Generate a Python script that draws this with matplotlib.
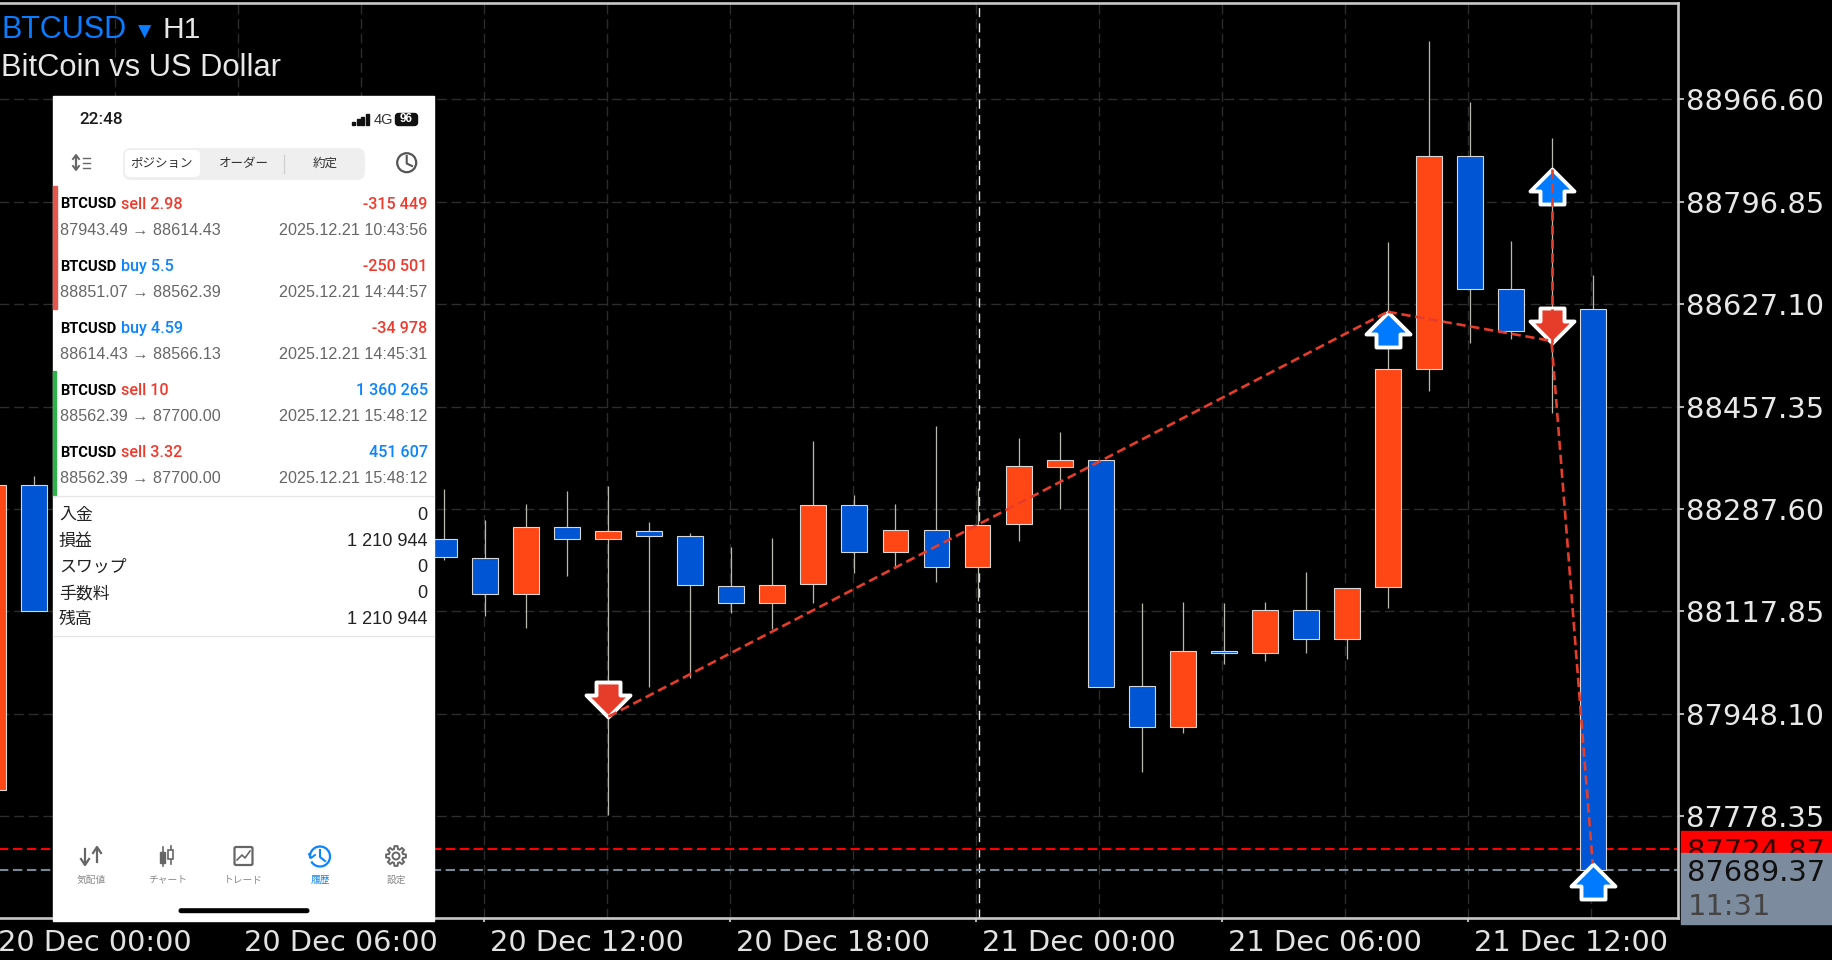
import numpy as np
import matplotlib
matplotlib.use('Agg')
import matplotlib.pyplot as plt
from matplotlib.markers import MarkerStyle
from matplotlib.patches import Rectangle, FancyBboxPatch, Circle, Arc, Polygon
from matplotlib.path import Path
from matplotlib.transforms import ScaledTranslation

# hours since 20 Dec 00:00, candles 2..10 sit behind the phone screenshot
hours = [0, 1, 11, 12, 13, 14, 15, 16, 17, 18, 19, 20, 21, 22, 23, 24, 25, 26, 27, 28,
         29, 30, 31, 32, 33, 34, 35, 36, 37, 38, 39]
opens = [87821.9, 88327.4, 88238.4, 88205.8, 88146.2, 88258.3, 88238.4, 88251.1, 88242.9, 88160.5,
         88132.4, 88163.3, 88294.8, 88215.8, 88252.8, 88192.0, 88262.2, 88356.7, 88368.8, 87994.3,
         87925.8, 88051.7, 88048.4, 88119.6, 88072.7, 88157.8, 88519.6, 88873.2, 88651.6, 88583.1, 88618.5]
closes = [88327.4, 88119.0, 88207.5, 88146.2, 88258.3, 88238.4, 88251.1, 88243.4, 88161.6, 88132.4,
          88162.2, 88294.8, 88215.8, 88252.8, 88192.0, 88261.1, 88358.9, 88368.8, 87993.2, 87925.8,
          88051.7, 88048.4, 88119.6, 88072.7, 88156.1, 88519.6, 88873.2, 88652.7, 88583.1, 88618.5, 87689.37]
highs = [88340.0, 88342.0, 88320.7, 88269.4, 88295.3, 88316.9, 88326.3, 88265.5, 88248.4, 88224.6,
         88240.1, 88400.3, 88310.8, 88295.3, 88425.2, 88321.8, 88405.8, 88415.2, 88368.8, 88131.3,
         88132.9, 88131.3, 88132.9, 88183.8, 88157.2, 88729.5, 89063.2, 88961.5, 88732.3, 88901.9, 88675.4]
lows = [87821.9, 88119.0, 88203.1, 88110.3, 88090.4, 88177.1, 87780.5, 87993.2, 88007.0, 88115.8,
        88088.7, 88132.4, 88182.1, 88190.4, 88167.2, 88135.1, 88235.1, 88287.0, 87993.2, 87851.7,
        87916.9, 88031.3, 88035.7, 88049.5, 88038.4, 88123.5, 88482.6, 88562.1, 88569.9, 88446.1, 87689.37]

price_ticks = [88966.60, 88796.85, 88627.10, 88457.35, 88287.60, 88117.85, 87948.10, 87778.35]
time_labels = ['20 Dec 00:00', '20 Dec 06:00', '20 Dec 12:00', '20 Dec 18:00',
               '21 Dec 00:00', '21 Dec 06:00', '21 Dec 12:00']
ask_price = 87724.87
bid_price = 87689.37

# trade lines: hour/price at start and end
trade_x0 = [15, 34, 38, 38]
trade_y0 = [87943.49, 88614.43, 88851.07, 88562.39]
trade_x1 = [34, 38, 38, 39]
trade_y1 = [88614.43, 88566.13, 88562.39, 87700.00]
up_x = [34, 38, 39]
up_y = [88614.43, 88851.07, 87700.00]
down_x = [15, 38]
down_y = [87943.49, 88562.39]

# phone screenshot contents
row_side = ['sell 2.98', 'buy 5.5', 'buy 4.59', 'sell 10', 'sell 3.32']
row_profit = ['-315 449', '-250 501', '-34 978', '1 360 265', '451 607']
row_prices = ['87943.49 → 88614.43', '88851.07 → 88562.39', '88614.43 → 88566.13',
              '88562.39 → 87700.00', '88562.39 → 87700.00']
row_times = ['2025.12.21 10:43:56', '2025.12.21 14:44:57', '2025.12.21 14:45:31',
             '2025.12.21 15:48:12', '2025.12.21 15:48:12']
summary_names = ['入金', '損益', 'スワップ', '手数料', '残高']
summary_values = ['0', '1 210 944', '0', '0', '1 210 944']
tab_names = ['気配値', 'チャート', 'トレード', '履歴', '設定']

ORANGE = '#FF4614'
BLUE = '#0055D4'
TRADE_RED = '#E63D2B'
ARROW_BLUE = '#007AFF'
GRID = '#2c2c2c'
PRICE_FONT = 'DejaVu Sans'
PRICE_SIZE = 20.8
JP = ['Noto Sans CJK JP', 'DejaVu Sans']
W, H = 1833, 960

fig = plt.figure(figsize=(W / 100, H / 100), dpi=100, facecolor='black')
ax = fig.add_axes([-40 / W, (H - 918) / H, 1718 / W, 915.5 / H], facecolor='black')
ax.set_xlim(-0.81, 41.08)
ax.set_ylim(87609.8, 89127.0)

# grid and separator
ax.set_xticks(np.arange(0, 42, 6) - 0.04)
ax.set_xticks(np.arange(0, 42, 3) - 0.04, minor=True)
ax.set_xticklabels(time_labels)
ax.set_yticks(price_ticks)
ax.set_yticklabels(['%.2f' % p for p in price_ticks])
ax.yaxis.tick_right()
ax.grid(which='both', color=GRID, lw=1, linestyle=(0, (7, 3.5)), zorder=0)
ax.set_axisbelow(True)
ax.axvline(24.025, color='#e8e8e8', lw=1, linestyle=(0, (6.5, 4.5)), zorder=1)
ax.axhline(ask_price, color='#FF0000', lw=1.5, linestyle=(0, (4.5, 2.2)), zorder=1)
ax.axhline(bid_price, color='#778899', lw=1.5, linestyle=(0, (4.5, 2.2)), zorder=1)

ax.tick_params(axis='x', which='major', length=3, width=1.2, color='#d8d8d8', labelcolor='#e2e2e2',
               labelsize=PRICE_SIZE, pad=5)
ax.tick_params(axis='x', which='minor', length=0)
ax.tick_params(axis='y', length=4, width=1.2, color='#d8d8d8', labelcolor='#e8e8e8', labelsize=PRICE_SIZE, pad=2)
for t in ax.get_xticklabels() + ax.get_yticklabels():
    t.set_family(PRICE_FONT)
for t in ax.get_xticklabels():
    t.set_ha('left')
    t.set_transform(t.get_transform() + ScaledTranslation(6 / 100, 0, fig.dpi_scale_trans))
for name, spine in ax.spines.items():
    spine.set_color('#c8c8c8')
    spine.set_linewidth(1.9)

# candles
colors = [ORANGE if c >= o else BLUE for o, c in zip(opens, closes)]
ax.vlines(hours, lows, highs, color='#b9b9b0', lw=0.9, zorder=2)
body_low = [min(o, c) for o, c in zip(opens, closes)]
body_h = [abs(o - c) for o, c in zip(opens, closes)]
ax.bar(hours, body_h, bottom=body_low, width=0.633, color=colors, edgecolor='#d8d8d8', linewidth=0.8, zorder=3)

# arrows, tip of the path sits on the trade price
arrow = [(0, 0), (22, -22), (12, -22), (12, -35), (-12, -35), (-12, -22), (-22, -22), (0, 0)]
up_path = Path(arrow, closed=True)
down_path = Path([(x, -y) for x, y in arrow], closed=True)
ms = 2 * 35 * 72 / 100
ax.plot(up_x, up_y, ls='none', marker=MarkerStyle(up_path, joinstyle='miter'), ms=ms, mfc=ARROW_BLUE,
        mec='white', mew=2.8, zorder=4)
ax.plot(down_x, down_y, ls='none', marker=MarkerStyle(down_path, joinstyle='miter'), ms=ms, mfc=TRADE_RED,
        mec='white', mew=2.8, zorder=4)
for x0, y0, x1, y1 in zip(trade_x0, trade_y0, trade_x1, trade_y1):
    ax.plot([x0, x1], [y0, y1], color=TRADE_RED, lw=1.9, linestyle=(0, (3.5, 1.8)), zorder=5)

# current price boxes on the right
tr = ax.get_yaxis_transform()
ax.add_patch(Rectangle((1.002, 87718.0), 0.1, 35.9, transform=tr, color='#FF0000', clip_on=False, zorder=6))
ax.text(1.0055, ask_price, '%.2f' % ask_price, transform=tr, color='#300000', fontsize=PRICE_SIZE, family=PRICE_FONT,
        va='center_baseline', clip_on=False, zorder=7)
ax.add_patch(Rectangle((1.002, 87600.0), 0.1, 118.0, transform=tr, color='#7D8B9E', clip_on=False, zorder=8))
ax.text(1.0055, bid_price, '%.2f' % bid_price, transform=tr, color='#101010', fontsize=PRICE_SIZE, family=PRICE_FONT,
        va='center_baseline', clip_on=False, zorder=9)
ax.text(1.0055, 87633.8, '11:31', transform=tr, color='#444444', fontsize=PRICE_SIZE, family=PRICE_FONT,
        va='center_baseline', clip_on=False, zorder=9)

# overlay in pixel units for the title and the phone screenshot
ui = fig.add_axes([0, 0, 1, 1])
ui.set_xlim(0, W)
ui.set_ylim(H, 0)
ui.axis('off')

ui.text(1, 38, 'BTCUSD', color='#0A7CFF', fontsize=22, family='Liberation Sans', va='baseline')
ui.text(138, 36.5, '▼', color='#0A7CFF', fontsize=12.5, family='DejaVu Sans', va='baseline')
ui.text(163, 38, 'H1', color='#e8e8e8', fontsize=21.6, family='Liberation Sans', va='baseline')
ui.text(1, 76, 'BitCoin vs US Dollar', color='#e8e8e8', fontsize=22.2, family='Liberation Sans', va='baseline')

ui.add_patch(Rectangle((53.3, 96), 381, 825, color='white', zorder=1))

# status bar
ui.text(79, 119, '22:48', color='#1a1a1a', fontsize=12.3, family='Roboto', weight='medium', va='center', zorder=3)
for i, h in enumerate([3.5, 6, 8.5, 11]):
    ui.add_patch(Rectangle((352 + i * 4.6, 125 - h), 3.2, h, color='#111111', zorder=3))
ui.text(374, 119.5, '4G', color='#333333', fontsize=10.5, family='Liberation Sans', va='center', zorder=3)
ui.add_patch(FancyBboxPatch((397, 115), 19, 9, boxstyle='round,pad=1.5,rounding_size=3', color='#111111', zorder=3))
ui.text(406.5, 119.5, '96', color='white', fontsize=8.5, weight='bold', family='Liberation Sans',
        ha='center', va='center', zorder=4)

# segmented control
ui.add_patch(FancyBboxPatch((123, 148), 242, 32, boxstyle='round,pad=0,rounding_size=8',
                            fc='#EFEFF0', ec='none', zorder=2))
ui.add_patch(FancyBboxPatch((125, 150), 75, 27, boxstyle='round,pad=0,rounding_size=5', fc='white', ec='none', zorder=3))
ui.plot([284, 284], [155, 173], color='#cfcfd2', lw=0.9, zorder=3)
for x, label in zip([162, 244, 325], ['ポジション', 'オーダー', '約定']):
    ui.text(x, 163.5, label, color='#333333', fontsize=9, family=JP, ha='center', va='center', zorder=4)

# sort icon and clock
ui.plot([76, 76], [156, 169], color='#666666', lw=1.6, zorder=3)
ui.plot([73, 76, 79], [159, 155, 159], color='#666666', lw=1.4, zorder=3)
ui.plot([73, 76, 79], [166, 170, 166], color='#666666', lw=1.4, zorder=3)
for y in [158, 163, 168]:
    ui.plot([83, 90], [y, y], color='#666666', lw=1, zorder=3)
ui.add_patch(Circle((406.7, 162.7), 9.5, fc='none', ec='#555555', lw=1.6, zorder=3))
ui.plot([406.7, 406.7, 412], [156, 163.5, 166], color='#555555', lw=1.5, zorder=3)

# trade rows
ui.add_patch(Rectangle((53.3, 185.7), 3.4, 123.6, color='#E5574C', zorder=3))
ui.add_patch(Rectangle((53.3, 370.7), 3.2, 125.3, color='#2DB34A', zorder=3))
for i in range(5):
    y1 = 204.5 + i * 62.1
    y2 = 230.7 + i * 62
    side_color = '#F03A2E' if row_side[i].startswith('sell') else '#0A84FF'
    profit_color = '#F03A2E' if row_profit[i].startswith('-') else '#0A84FF'
    ui.text(60, y1, 'BTCUSD', color='black', fontsize=10.6, weight='bold', family='Roboto', va='center', zorder=3)
    ui.text(120.7, y1, row_side[i], color=side_color, fontsize=11.6, weight='medium', family='Roboto', va='center', zorder=3)
    ui.text(427.7, y1, row_profit[i], color=profit_color, fontsize=11.6, weight='medium', family='Roboto',
            ha='right', va='center', zorder=3)
    ui.text(60, y2, row_prices[i], color='#666666', fontsize=11.6, family='Liberation Sans', va='center', zorder=3)
    ui.text(427.7, y2, row_times[i], color='#666666', fontsize=11.6, family='Liberation Sans',
            ha='right', va='center', zorder=3)

# summary block
ui.plot([53.3, 434.3], [495.5, 495.5], color='#e6e6e6', lw=0.9, zorder=3)
ui.plot([53.3, 434.3], [636, 636], color='#e6e6e6', lw=0.9, zorder=3)
for i in range(5):
    y = 515 + i * 26
    ui.text(59, y, summary_names[i], color='#222222', fontsize=12.2, family=JP, va='center', zorder=3)
    ui.text(427.7, y, summary_values[i], color='#222222', fontsize=13.1, family='Liberation Sans',
            ha='right', va='center', zorder=3)

# tab bar
tab_x = [91.7, 167.3, 243.7, 320, 396]
for i in range(5):
    c = '#0A84FF' if i == 3 else '#8a8a8a'
    ui.text(tab_x[i], 879.5, tab_names[i], color=c, fontsize=7, family=JP, ha='center', va='center', zorder=3)
GREY = '#666666'
# quotes
ui.plot([85, 85], [849, 864], color=GREY, lw=1.6, zorder=3)
ui.plot([81, 85, 89], [859, 865, 859], color=GREY, lw=1.6, zorder=3)
ui.plot([97, 97], [848, 862], color=GREY, lw=1.6, zorder=3)
ui.plot([93, 97, 101], [853, 847, 853], color=GREY, lw=1.6, zorder=3)
# chart
ui.plot([163, 163], [847, 866], color=GREY, lw=1.2, zorder=3)
ui.add_patch(Rectangle((160.5, 852), 5, 11, color=GREY, zorder=4))
ui.plot([171, 171], [846, 864], color=GREY, lw=1.2, zorder=3)
ui.add_patch(Rectangle((168.5, 850), 5, 9, fc='white', ec=GREY, lw=1.2, zorder=4))
# trade
ui.add_patch(FancyBboxPatch((234.5, 847), 18, 18, boxstyle='round,pad=0,rounding_size=1.5', fc='none', ec=GREY,
                            lw=1.6, zorder=3))
ui.plot([237, 242, 245, 250], [860, 855, 858, 851], color=GREY, lw=1.2, zorder=3)
# history
hist_c = (320, 856.5)
ui.add_patch(Arc(hist_c, 20, 20, theta1=-190, theta2=150, ec='#0A84FF', lw=1.6, zorder=3))
ui.plot([320, 320, 325], [850, 857, 861], color='#0A84FF', lw=1.5, zorder=3)
ui.plot([309, 311, 315], [854, 858, 855], color='#0A84FF', lw=1.4, zorder=3)
# settings
ang = np.linspace(0, 2 * np.pi, 8, endpoint=False)
gear = []
for a in ang:
    for d, r in [(-0.28, 7.2), (-0.15, 10), (0.15, 10), (0.28, 7.2)]:
        gear.append((396 + r * np.cos(a + d), 856 + r * np.sin(a + d)))
ui.add_patch(Polygon(gear, closed=True, fc='none', ec=GREY, lw=1.4, zorder=3))
ui.add_patch(Circle((396, 856), 3.5, fc='none', ec=GREY, lw=1.4, zorder=3))

# home indicator
ui.add_patch(FancyBboxPatch((178.5, 908.2), 131, 5, boxstyle='round,pad=0,rounding_size=2.5', fc='black', ec='none', zorder=3))

fig.savefig('out.png', dpi=100, facecolor='black')
